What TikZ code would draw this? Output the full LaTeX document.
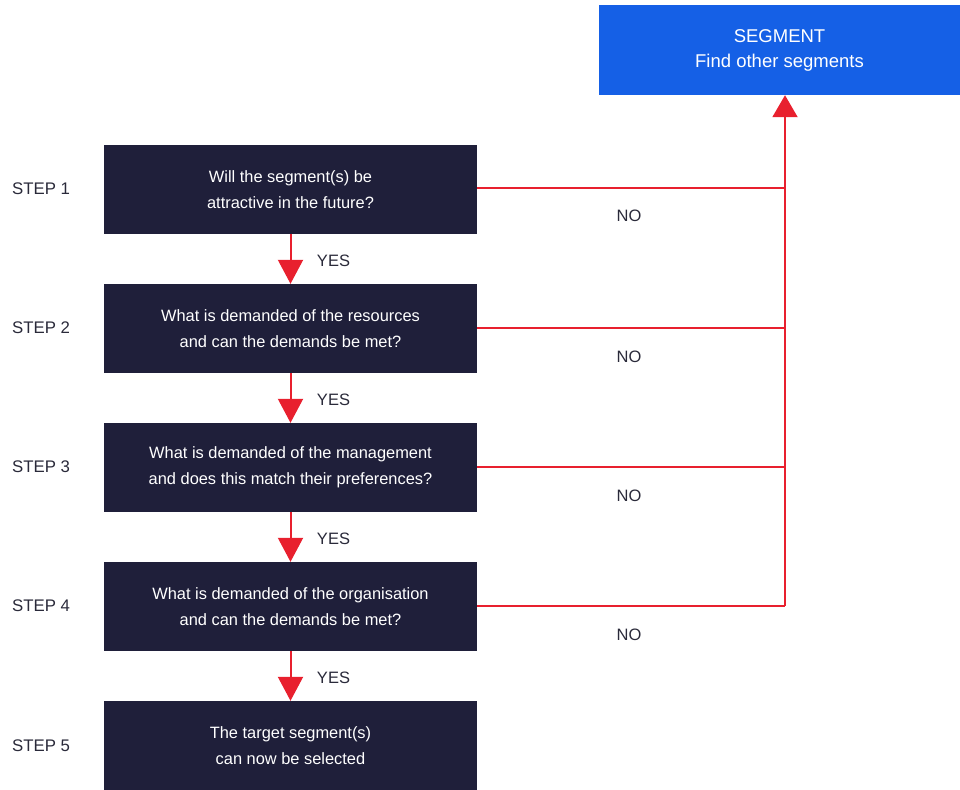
\documentclass[tikz,border=0pt]{standalone}
\usepackage{fontspec}
\setmainfont{Liberation Sans}
\usetikzlibrary{arrows.meta}
\definecolor{navy}{HTML}{1F1F3A}
\definecolor{segblue}{HTML}{1560E6}
\definecolor{flowred}{HTML}{E8202E}
\definecolor{labelgray}{HTML}{2A2A3A}
\begin{document}
\begin{tikzpicture}[x=1pt,y=-1pt,
  stepbox/.style={fill=navy, draw=none, minimum width=373pt, minimum height=89pt, text=white, align=center, inner sep=0pt, font=\fontsize{16.4}{26}\selectfont},
  segbox/.style={fill=segblue, draw=none, minimum width=361pt, minimum height=90pt, text=white, align=center, inner sep=0pt, font=\fontsize{18.5}{25}\selectfont},
  steplabel/.style={anchor=west, text=labelgray, font=\fontsize{16.8}{18}\selectfont, inner sep=0pt},
  answer/.style={text=labelgray, font=\fontsize{16.5}{18}\selectfont, inner sep=0pt},
  yesarrow/.style={draw=flowred, line width=2pt, -{Triangle[length=24pt,width=25pt]}},
  noline/.style={draw=flowred, line width=2pt},
  uparrow/.style={draw=flowred, line width=2pt, -{Triangle[length=22pt,width=25pt]}}
]
\useasboundingbox (0,0) rectangle (960,789);
\begin{scope}
\clip (0,0) rectangle (960,789);
\node[segbox] (seg) at (779.5,50) {SEGMENT\\Find other segments};
\node[stepbox] (b1) at (290.5,189.5) {Will the segment(s) be\\attractive in the future?};
\node[stepbox] (b2) at (290.5,328.5) {What is demanded of the resources\\and can the demands be met?};
\node[stepbox] (b3) at (290.5,467.5) {What is demanded of the management\\and does this match their preferences?};
\node[stepbox] (b4) at (290.5,606.5) {What is demanded of the organisation\\and can the demands be met?};
\node[stepbox] (b5) at (290.5,745.5) {The target segment(s)\\can now be selected};
\end{scope}

\node[steplabel] (s1) at (12,189) {STEP 1};
\node[steplabel] (s2) at (12,328) {STEP 2};
\node[steplabel] (s3) at (12,467) {STEP 3};
\node[steplabel] (s4) at (12,606) {STEP 4};
\node[steplabel] (s5) at (12,746) {STEP 5};

\node[answer] (y1) at (333.5,261) {YES};
\node[answer] (y2) at (333.5,400) {YES};
\node[answer] (y3) at (333.5,539) {YES};
\node[answer] (y4) at (333.5,678) {YES};

\node[answer] (n1) at (629,216) {NO};
\node[answer] (n2) at (629,357) {NO};
\node[answer] (n3) at (629,496) {NO};
\node[answer] (n4) at (629,635) {NO};

\draw[yesarrow] (b1.south) -- (b2.north);
\draw[yesarrow] (b2.south) -- (b3.north);
\draw[yesarrow] (b3.south) -- (b4.north);
\draw[yesarrow] (b4.south) -- (b5.north);

\coordinate (j1) at (785,188);
\coordinate (j2) at (785,328);
\coordinate (j3) at (785,467);
\coordinate (j4) at (785,606);
\draw[noline] (b1.east |- j1) -- (j1);
\draw[noline] (b2.east |- j2) -- (j2);
\draw[noline] (b3.east |- j3) -- (j3);
\draw[noline] (b4.east |- j4) -- (j4);
\draw[uparrow] (j4) -- (j4 |- seg.south);
\end{tikzpicture}
\end{document}
